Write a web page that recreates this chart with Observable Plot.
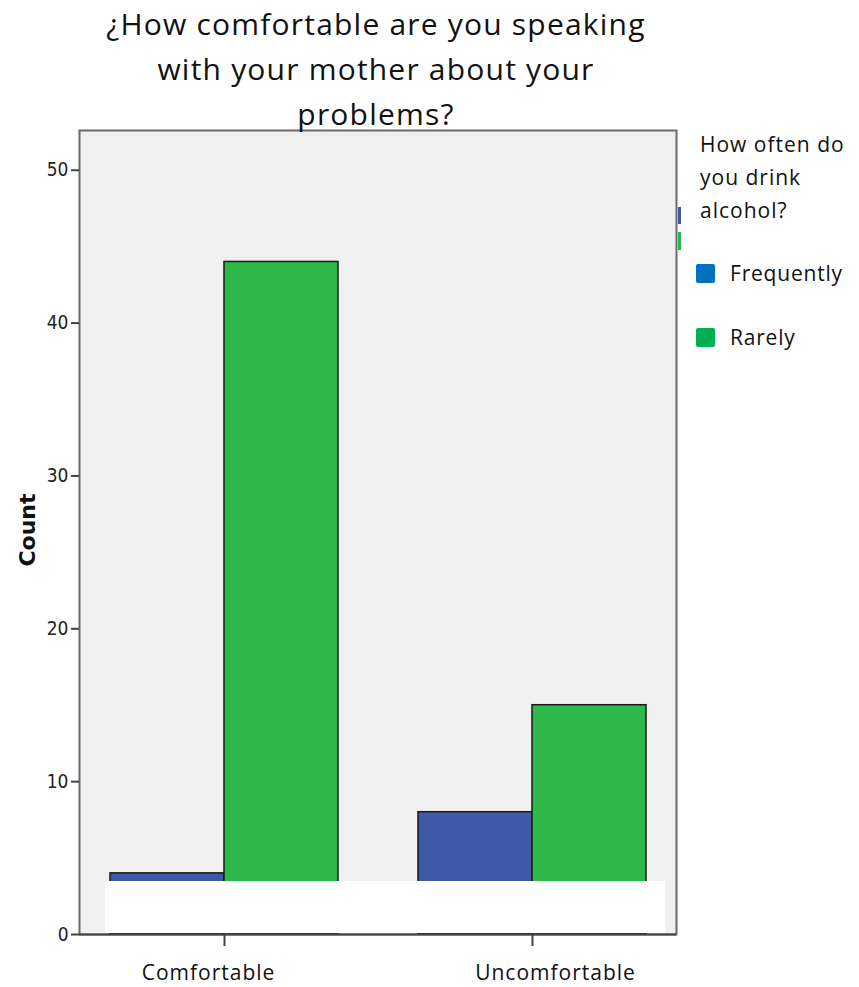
<!DOCTYPE html>
<html>
<head>
<meta charset="utf-8">
<script src="https://cdn.jsdelivr.net/npm/d3@7"></script>
<script src="https://cdn.jsdelivr.net/npm/@observablehq/plot@0.6"></script>
<style>
  html, body { margin: 0; padding: 0; background: #fff; }
  #wrap { position: relative; width: 859px; height: 987px; overflow: hidden; font-family: "Open Sans", sans-serif; }
  #chart { position: absolute; left: 0; top: 0; }
  .title { position: absolute; left: 26px; width: 700px; text-align: center; font-size: 30px; letter-spacing: 1.2px; line-height: 45px; top: 1px; color: #111; }
  .legtitle { position: absolute; left: 700px; top: 128px; font-size: 21px; letter-spacing: 1px; line-height: 33px; color: #111; white-space: nowrap; }
  .legitem { position: absolute; left: 696px; font-size: 21px; letter-spacing: 0.8px; color: #111; display: flex; align-items: center; }
  .sw { width: 19px; height: 19px; border-radius: 2px; margin-right: 15px; }
  .ylab { position: absolute; left: 27px; top: 530px; transform: translate(-50%, -50%) rotate(-90deg); font-family: "DejaVu Sans", sans-serif; font-weight: bold; font-size: 22px; color: #111; white-space: nowrap; }
  .cover { position: absolute; left: 105px; top: 881px; width: 560px; height: 52px; background: #fff; }
  .bit { position: absolute; left: 678px; width: 3px; }
  .xl text { letter-spacing: 1px; }
</style>
</head>
<body>
<div id="wrap">
  <div id="chart"></div>
  <div class="title">¿How comfortable are you speaking<br>with your mother about your<br>problems?</div>
  <div class="legtitle">How often do<br>you drink<br>alcohol?</div>
  <div id="legend"></div>
  <div class="ylab">Count</div>
  <div class="cover"></div>
</div>
<script>
const categories = ["Comfortable", "Uncomfortable"];
const seriesNames = ["Frequently", "Rarely"];
const frequentlyCounts = [4, 8];
const rarelyCounts = [44, 15];
const yTicks = [0, 10, 20, 30, 40, 50];
const barColors = ["#3f59a8", "#2eb84a"];
const legendColors = ["#0070c0", "#00b050"];

const rows = [];
categories.forEach((c, i) => {
  rows.push({category: c, series: seriesNames[0], count: frequentlyCounts[i]});
  rows.push({category: c, series: seriesNames[1], count: rarelyCounts[i]});
});

const W = 859, H = 987;
const mL = 79, mR = 183, mT = 130, mB = 53;
const plotW = W - mL - mR;
const pIn = 0.26, pOut = 0.099;
const step = plotW / (categories.length - pIn + 2 * pOut);
const half = step * (1 - pIn) / 2;

const xLabelStyle = {tickSize: 0, tickPadding: 31, fontSize: 21, fontFamily: "'Open Sans', sans-serif", color: "#111", className: "xl"};

const chart = Plot.plot({
  width: W, height: H,
  marginLeft: mL, marginRight: mR, marginTop: mT, marginBottom: mB,
  style: {background: "transparent", overflow: "visible"},
  x: {domain: categories, paddingInner: pIn, paddingOuter: pOut, label: null},
  y: {domain: [0, 52.6], label: null},
  color: {domain: seriesNames, range: barColors},
  marks: [
    Plot.frame({fill: "#f0f0f0", stroke: "#6a6a6a", strokeWidth: 2}),
    Plot.barY(rows.filter(d => d.series === seriesNames[0]), {x: "category", y: "count", fill: "series", stroke: "#1a1a1a", strokeWidth: 1.5, insetRight: half, insetLeft: 0}),
    Plot.barY(rows.filter(d => d.series === seriesNames[1]), {x: "category", y: "count", fill: "series", stroke: "#1a1a1a", strokeWidth: 1.5, insetLeft: half, insetRight: 0}),
    Plot.axisY({ticks: yTicks, tickSize: 8, tickPadding: 3, tickFormat: d => String(d), fontSize: 19, fontFamily: "'Liberation Sans Narrow', 'DejaVu Sans Condensed', sans-serif", stroke: "#444", strokeWidth: 2, color: "#222"}),
    Plot.axisX({tickSize: 12, tickFormat: () => "", stroke: "#444", strokeWidth: 2}),
    Plot.axisX({...xLabelStyle, ticks: [categories[0]], dx: -16}),
    Plot.axisX({...xLabelStyle, ticks: [categories[1]], dx: 23}),
    Plot.ruleY([0], {stroke: "#444", strokeWidth: 2}),
  ]
});
document.getElementById("chart").appendChild(chart);

const leg = document.getElementById("legend");
const legTops = [259, 323];
seriesNames.forEach((s, i) => {
  const d = document.createElement("div");
  d.className = "legitem";
  d.style.top = legTops[i] + "px";
  d.innerHTML = `<span class="sw" style="background:${legendColors[i]}"></span><span>${s}</span>`;
  leg.appendChild(d);
});
const bits = [[207, 17, barColors[0]], [232, 18, barColors[1]]];
bits.forEach(([t, h, c]) => {
  const b = document.createElement("div");
  b.className = "bit";
  b.style.top = t + "px"; b.style.height = h + "px"; b.style.background = c;
  leg.appendChild(b);
});
</script>
</body>
</html>
